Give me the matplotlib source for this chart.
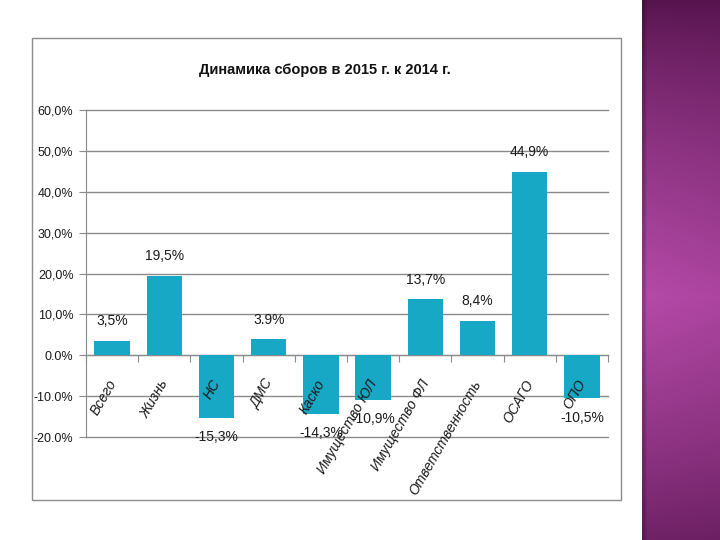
import numpy as np
import matplotlib
matplotlib.use('Agg')
import matplotlib.pyplot as plt
from matplotlib.patches import Rectangle

# ---- data ----
categories = ["Всего", "Жизнь", "НС", "ДМС", "Каско", "Имущество ЮЛ",
              "Имущество ФЛ", "Ответственность", "ОСАГО", "ОПО"]
values = [3.5, 19.5, -15.3, 3.9, -14.3, -10.9, 13.7, 8.4, 44.9, -10.5]
value_labels = ["3,5%", "19,5%", "-15,3%", "3.9%", "-14,3%", "-10,9%",
                "13,7%", "8,4%", "44,9%", "-10,5%"]
yticks = [-20, -10, 0, 10, 20, 30, 40, 50, 60]
ytick_labels = ["-20.0%", "-10.0%", "0.0%", "10,0%", "20,0%", "30,0%",
                "40,0%", "50,0%", "60,0%"]
title = "Динамика сборов в 2015 г. к 2014 г."

plt.rcParams['font.family'] = ['Liberation Sans', 'DejaVu Sans']

W, H = 720, 540
fig = plt.figure(figsize=(W / 100, H / 100), dpi=100)
fig.patch.set_facecolor('white')

# chart frame
fig.patches.append(Rectangle((32 / W, 1 - 500 / H), (621 - 32) / W, (500 - 38) / H,
                             transform=fig.transFigure, fill=False,
                             ec='#8c8c8c', lw=1.0))

# purple side strip
axp = fig.add_axes([642 / W, 0, (W - 642) / W, 1])
ny, nx = 270, 40
yy = np.linspace(0, 1, ny)[:, None]
xx = np.linspace(0, 1, nx)[None, :]
vert = np.clip(1 - np.abs(yy - 0.55) / 0.58, 0, 1) ** 0.7
horiz = 1 - 0.08 * xx
bright = vert * horiz
dark = np.array([0.29, 0.05, 0.26])
light = np.array([0.71, 0.29, 0.66])
img = dark + (light - dark) * bright[..., None]
img[:, :2] = img[:, :2] * 0.8
axp.imshow(img, aspect='auto', interpolation='bilinear')
axp.axis('off')

# main axes
GRID = '#8a8a8a'
ax = fig.add_axes([86 / W, 103 / H, 522 / W, 327 / H])
x = np.arange(len(categories))
ax.bar(x, values, width=0.68, color='#17a8c6', zorder=3)
ax.set_xlim(-0.5, len(categories) - 0.5)
ax.set_ylim(-20, 60)
ax.set_yticks(yticks)
ax.set_yticklabels(ytick_labels, fontsize=9, color='#1a1a1a')
for t in yticks:
    ax.axhline(t, color=GRID, lw=1.0, zorder=1, clip_on=False)
for s in ['top', 'right']:
    ax.spines[s].set_visible(False)
ax.spines['left'].set_color(GRID)
ax.spines['bottom'].set_color(GRID)
ax.spines['bottom'].set_position(('data', 0))
ax.set_xticks(np.arange(-0.5, len(categories), 1))
ax.set_xticklabels([])
ax.tick_params(axis='x', direction='out', length=5, color=GRID)
ax.tick_params(axis='y', direction='out', length=5, color=GRID, pad=4)

for i, (v, lab) in enumerate(zip(values, value_labels)):
    ax.annotate(lab, (i, v), xytext=(0, 14 if v > 0 else -14),
                textcoords='offset points', ha='center', va='center',
                fontsize=10, color='#1a1a1a', zorder=5)

for i, name in enumerate(categories):
    ax.text(i - 0.1, -5.4, name, rotation=60, rotation_mode='anchor',
            ha='right', va='top', fontsize=10, style='italic',
            color='#1a1a1a', zorder=5)

fig.text(325 / W, 1 - 70 / H, title, ha='center', va='center',
         fontsize=10.5, fontweight='bold', color='#111111')

fig.savefig('out.png', dpi=100)
